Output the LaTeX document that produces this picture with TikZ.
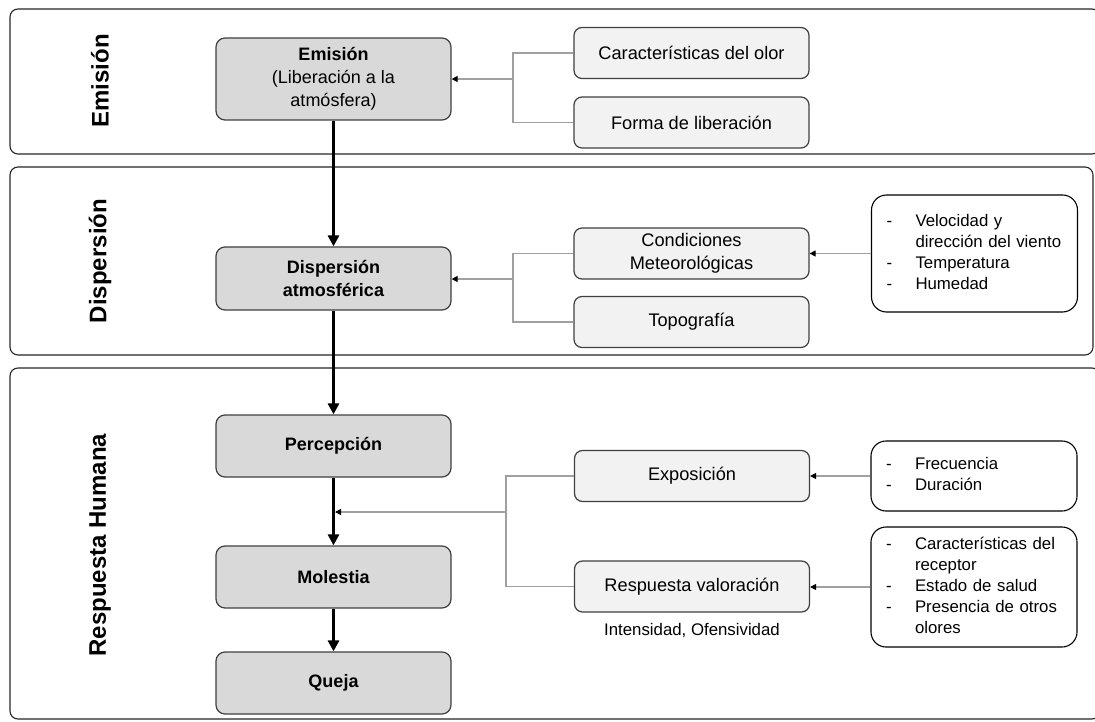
\documentclass[tikz,border=0pt]{standalone}
\usepackage{fontspec}
\setmainfont{Liberation Sans}
\usetikzlibrary{arrows.meta}
\definecolor{mainfill}{HTML}{D9D9D9}
\definecolor{subfill}{HTML}{F2F2F2}
\definecolor{edgec}{HTML}{404040}
\definecolor{connc}{HTML}{A0A0A0}
\begin{document}
\begin{tikzpicture}[x=1pt,y=-1pt,
  band/.style={draw=black!85, line width=1.1pt, rounded corners=8pt, fill=white},
  mainbox/.style={draw=edgec, fill=mainfill, line width=1.2pt, rounded corners=9pt, minimum width=235pt, align=center, inner sep=0pt, font=\bfseries\fontsize{18}{23}\selectfont},
  subbox/.style={draw=edgec, fill=subfill, line width=1.2pt, rounded corners=8pt, minimum width=235pt, minimum height=51pt, align=center, inner sep=0pt, font=\fontsize{18.2}{23}\selectfont},
  listbox/.style={draw=black, fill=white, line width=1.1pt, rounded corners=15pt, text width=176pt, inner xsep=15pt, inner ysep=0pt, align=left, font=\fontsize{16.8}{21}\selectfont},
  notetext/.style={inner sep=0pt, font=\fontsize{16.8}{21}\selectfont},
  mainarrow/.style={line width=3pt, -{Triangle[length=11pt,width=11pt]}},
  grayline/.style={draw=connc, line width=1.1pt},
  grayarrow/.style={draw=connc, line width=1.1pt, -{Triangle[length=6pt,width=6pt,color=black]}},
  sidelabel/.style={rotate=90, inner sep=0pt, font=\bfseries\fontsize{24}{28}\selectfont}
]
\useasboundingbox (0,0) rectangle (1095,722);

% bands
\draw[band] (10,9) rectangle (1100,154);
\draw[band] (10,167) rectangle (1093,355);
\draw[band] (10,368) rectangle (1100,719);

\node[sidelabel] (lemi) at (100,81) {Emisión};
\node[sidelabel] (ldis) at (100,261) {Dispersión};
\node[sidelabel] (lres) at (100,545) {Respuesta Humana};

% main column
\node[mainbox, minimum height=82pt] (emi) at (333.5,79) {Emisión\\\mdseries(Liberación a la\\\mdseries atmósfera)};
\node[mainbox, minimum height=63pt] (dis) at (333.5,278.5) {Dispersión\\atmosférica};
\node[mainbox, minimum height=62pt] (per) at (333.5,446) {Percepción};
\node[mainbox, minimum height=62pt] (mol) at (333.5,577) {Molestia};
\node[mainbox, minimum height=62pt] (que) at (333.5,683) {Queja};

% factor boxes
\node[subbox] (car) at (691.5,53) {Características del olor};
\node[subbox] (for) at (691.5,122.5) {Forma de liberación};
\node[subbox] (con) at (691.5,253.5) {Condiciones\\Meteorológicas};
\node[subbox] (top) at (691.5,322) {Topografía};
\node[subbox] (exp) at (692,476) {Exposición};
\node[subbox] (res) at (692,586.5) {Respuesta valoración};
\node[notetext] (int) at (692,630) {Intensidad, Ofensividad};

% list boxes
\node[listbox, minimum height=117pt] (met) at (974.5,253.5) {\begin{tabular}{@{}p{29pt}@{}l@{}}-&Velocidad y\\ &dirección del viento\\-&Temperatura\\-&Humedad\end{tabular}};
\node[listbox, minimum height=70pt] (fre) at (974,476) {\begin{tabular}{@{}p{29pt}@{}l@{}}-&Frecuencia\\-&Duración\end{tabular}};
\node[listbox, minimum height=120pt] (rec) at (974,587) {\begin{tabular}{@{}p{29pt}@{}l@{}}-&Características del\\ &receptor\\-&Estado de salud\\-&Presencia de otros\\ &olores\end{tabular}};

% brackets and gray arrows
\coordinate (b1) at (513,79);
\draw[grayline] (car.west) -- (car.west -| b1) -- (for.west -| b1) -- (for.west);
\draw[grayarrow] (b1) -- (emi.east |- b1);

\coordinate (b2) at (513,279);
\draw[grayline] (con.west) -- (con.west -| b2) -- (top.west -| b2) -- (top.west);
\draw[grayarrow] (b2) -- (dis.east |- b2);

\coordinate (b3) at (506,512);
\coordinate (j) at (335,512);
\draw[grayline] (exp.west) -- (exp.west -| b3) -- (res.west -| b3) -- (res.west);

\draw[grayarrow] (met.west) -- (con.east |- met.west);
\draw[grayarrow] (fre.west) -- (exp.east |- fre.west);
\draw[grayarrow] (rec.west) -- (res.east |- rec.west);

% main arrows
\draw[mainarrow] (emi.south) -- (dis.north);
\draw[mainarrow] (dis.south) -- (per.north);
\draw[mainarrow] (per.south) -- (mol.north);
\draw[mainarrow] (mol.south) -- (que.north);
\draw[grayarrow] (b3) -- (j);
\end{tikzpicture}
\end{document}
